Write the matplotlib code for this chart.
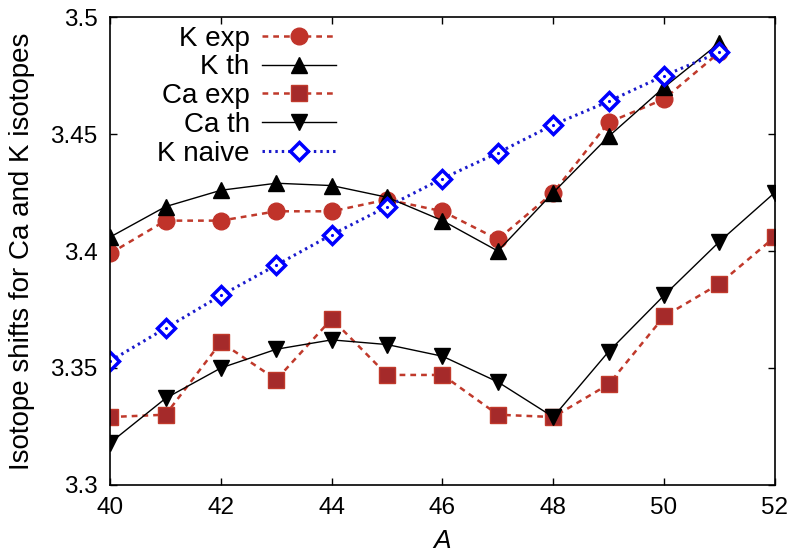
import matplotlib
matplotlib.use("Agg")
import matplotlib.pyplot as plt

plt.rcParams['font.family'] = ['Liberation Sans', 'DejaVu Sans']

# ===== data =====
A_K = [40, 41, 42, 43, 44, 45, 46, 47, 48, 49, 50, 51]
A_Ca = [40, 41, 42, 43, 44, 45, 46, 47, 48, 49, 50, 51, 52]

k_exp = [3.399, 3.413, 3.413, 3.417, 3.417, 3.422, 3.417, 3.405, 3.425, 3.455, 3.465, 3.485]
k_th = [3.406, 3.419, 3.426, 3.429, 3.428, 3.423, 3.413, 3.400, 3.425, 3.449, 3.470, 3.489]
ca_exp = [3.329, 3.330, 3.361, 3.345, 3.371, 3.347, 3.347, 3.330, 3.329, 3.343, 3.372, 3.386, 3.406]
ca_th = [3.318, 3.337, 3.350, 3.358, 3.362, 3.360, 3.355, 3.344, 3.329, 3.357, 3.381, 3.404, 3.425]
k_naive = [3.353, 3.367, 3.381, 3.394, 3.407, 3.419, 3.431, 3.442, 3.454, 3.464, 3.475, 3.485]

x_ticks = [40, 42, 44, 46, 48, 50, 52]
y_ticks = [3.3, 3.35, 3.4, 3.45, 3.5]
y_ticklabels = ["3.3", "3.35", "3.4", "3.45", "3.5"]

# ===== plot =====
fig = plt.figure(figsize=(7.93, 5.56), dpi=100)
ax = fig.add_axes([0.139, 0.128, 0.838, 0.841])

RED = '#c0392b'
ax.plot(A_K, k_exp, '--', color=RED, lw=1.8, dashes=(2.3, 2.0),
        marker='o', ms=12, mfc='#c0332a', mec='#c0332a', label='K exp')
ax.plot(A_K, k_th, '-', color='black', lw=1.0,
        marker='^', ms=12, mfc='black', mec='black', label='K th')
ax.plot(A_Ca, ca_exp, '--', color=RED, lw=1.8, dashes=(2.3, 2.0),
        marker='s', ms=11, mfc='#a52a2a', mec='#c0392b', label='Ca exp')
ax.plot(A_Ca, ca_th, '-', color='black', lw=1.0,
        marker='v', ms=12, mfc='black', mec='black', label='Ca th')
ax.plot(A_K, k_naive, ':', color='#1a1acc', lw=2.2, dashes=(0.8, 1.3),
        marker='D', ms=9, mfc='white', mec='#0000ff', mew=2.5, label='K naive')
# small dot in the diamond centres
ax.plot(A_K, k_naive, ls='none', marker='.', ms=2.5, color='#0000ff')

ax.set_xlim(40, 52)
ax.set_ylim(3.3, 3.5)
ax.set_xticks(x_ticks)
ax.set_yticks(y_ticks)
ax.set_yticklabels(y_ticklabels)
ax.tick_params(direction='in', top=True, right=True, length=5, width=1.0,
               labelsize=17.5, pad=9)
for s in ax.spines.values():
    s.set_linewidth(1.2)

ax.set_xlabel('A', fontsize=19, style='italic', labelpad=7)
ax.set_ylabel('Isotope shifts for Ca and K isotopes', fontsize=20, labelpad=11)

leg = ax.legend(loc='upper left', bbox_to_anchor=(0.054, 1.006), frameon=False,
                markerfirst=False, fontsize=20, handlelength=2.66,
                handletextpad=0.43, labelspacing=0.1, borderaxespad=0.0)
for t in leg.get_texts():
    t.set_ha('right')
    t.set_position((0, 0))
leg._legend_box.align = 'right'

fig.savefig('out.png', dpi=100)
